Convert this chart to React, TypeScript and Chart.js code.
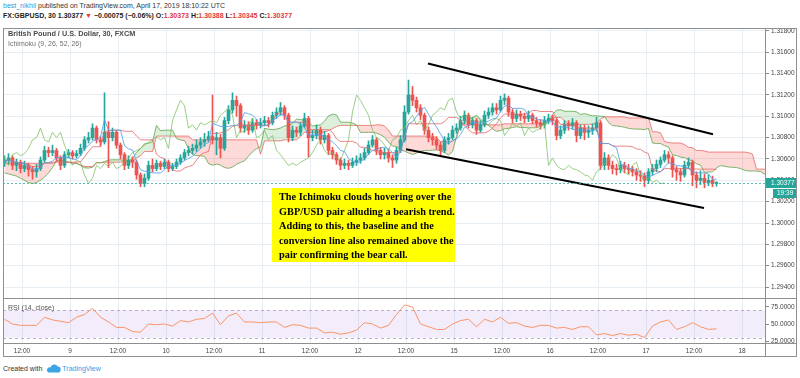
import React, { useEffect, useRef } from "react";
import { Chart, registerables } from "chart.js";
Chart.register(...registerables);

// ---------- DATA (hourly candles) ----------
const firstHour = 7.625; // trading-hour index of the first candle (label "9" = hour 24)
const firstOpen = 1.3057;
const closes = [
  1.3059, 1.3061, 1.3054, 1.3057, 1.3051, 1.3054, 1.305, 1.3048, 1.3051, 1.3059,
  1.3068, 1.3066, 1.3068, 1.3061, 1.3054, 1.3064, 1.3066, 1.3063, 1.3065, 1.307,
  1.3078, 1.308, 1.3089, 1.3078, 1.3076, 1.3085, 1.308, 1.3085, 1.3073, 1.3064,
  1.3054, 1.3059, 1.3057, 1.3045, 1.3037, 1.3042, 1.3054, 1.3051, 1.3056, 1.3053,
  1.3057, 1.3051, 1.3053, 1.3057, 1.3061, 1.3066, 1.3068, 1.307, 1.3073, 1.3076,
  1.3078, 1.3081, 1.3078, 1.308, 1.307, 1.3096, 1.3106, 1.3115, 1.311, 1.3089,
  1.3092, 1.3087, 1.3094, 1.3092, 1.3094, 1.3096, 1.3094, 1.3101, 1.3104, 1.3108,
  1.3101, 1.308, 1.3087, 1.3085, 1.3091, 1.3098, 1.308, 1.3082, 1.3087, 1.3078,
  1.3082, 1.3068, 1.3064, 1.3059, 1.3054, 1.3056, 1.3054, 1.3057, 1.3059, 1.3061,
  1.3066, 1.3073, 1.3078, 1.3068, 1.3064, 1.3066, 1.3061, 1.3059, 1.3068, 1.3078,
  1.3104, 1.312, 1.3115, 1.3108, 1.3101, 1.3087, 1.308, 1.3078, 1.3073, 1.3068,
  1.3078, 1.308, 1.3087, 1.3089, 1.3096, 1.3101, 1.3092, 1.3096, 1.3087, 1.3092,
  1.3101, 1.3104, 1.3108, 1.3106, 1.3115, 1.3117, 1.3104, 1.3098, 1.3102, 1.31,
  1.3098, 1.3101, 1.3096, 1.3094, 1.3092, 1.3096, 1.3098, 1.3096, 1.3082, 1.3087,
  1.3093, 1.3091, 1.3094, 1.3082, 1.3089, 1.3085, 1.3087, 1.3089, 1.3094, 1.3054,
  1.3061, 1.3054, 1.3051, 1.305, 1.3054, 1.3051, 1.305, 1.3048, 1.3045, 1.3044,
  1.304, 1.3048, 1.3051, 1.3055, 1.3059, 1.3064, 1.3061, 1.305, 1.3048, 1.3045,
  1.3054, 1.3057, 1.3045, 1.304, 1.3042, 1.3038, 1.304, 1.3037, 1.30377,
];
const highs = [
  1.3063, 1.3065, 1.3063, 1.306, 1.3059, 1.3058, 1.3056, 1.3053, 1.3055, 1.3062,
  1.3072, 1.3071, 1.3073, 1.307, 1.3063, 1.3067, 1.3069, 1.3068, 1.3068, 1.3074,
  1.3081, 1.3085, 1.3093, 1.3091, 1.3081, 1.3122, 1.3095, 1.3089, 1.3087, 1.3075,
  1.3066, 1.3063, 1.3062, 1.3059, 1.3047, 1.3046, 1.3058, 1.306, 1.3059, 1.3058,
  1.306, 1.3059, 1.3056, 1.306, 1.3064, 1.3069, 1.3072, 1.3074, 1.3078, 1.308,
  1.3084, 1.3086, 1.312, 1.3085, 1.3083, 1.3099, 1.311, 1.3122, 1.3119, 1.3112,
  1.3096, 1.3095, 1.3098, 1.3097, 1.3098, 1.31, 1.3099, 1.3104, 1.3108, 1.3113,
  1.311, 1.3103, 1.3091, 1.309, 1.3094, 1.3103, 1.31, 1.3087, 1.3092, 1.309,
  1.3086, 1.3084, 1.3071, 1.3066, 1.3061, 1.306, 1.3059, 1.3061, 1.3063, 1.3065,
  1.307, 1.3077, 1.3082, 1.308, 1.3071, 1.307, 1.3069, 1.3064, 1.3071, 1.3082,
  1.311, 1.3134, 1.3128, 1.3118, 1.3111, 1.3103, 1.309, 1.3084, 1.3081, 1.3076,
  1.3081, 1.3084, 1.3091, 1.3093, 1.31, 1.3105, 1.3103, 1.3099, 1.3098, 1.3096,
  1.3105, 1.3108, 1.3112, 1.3112, 1.3119, 1.3121, 1.3119, 1.3107, 1.3106, 1.3105,
  1.3103, 1.3105, 1.3103, 1.3099, 1.3097, 1.31, 1.3102, 1.3101, 1.3098, 1.3091,
  1.3096, 1.3096, 1.3098, 1.3096, 1.3092, 1.3092, 1.3091, 1.3093, 1.3099, 1.3096,
  1.3066, 1.3064, 1.3058, 1.3055, 1.3058, 1.3057, 1.3055, 1.3053, 1.3051, 1.3049,
  1.3047, 1.3051, 1.3055, 1.3059, 1.3062, 1.3068, 1.3067, 1.3063, 1.3053, 1.3051,
  1.3058, 1.3061, 1.3059, 1.3048, 1.3049, 1.3046, 1.3045, 1.3044, 1.30388,
];
const lows = [
  1.3053, 1.3055, 1.305, 1.3049, 1.3047, 1.3048, 1.3044, 1.3041, 1.3043, 1.3049,
  1.3057, 1.3062, 1.3063, 1.3058, 1.305, 1.3052, 1.3061, 1.306, 1.3061, 1.3063,
  1.3068, 1.3075, 1.3078, 1.3075, 1.3072, 1.3074, 1.3052, 1.3077, 1.307, 1.306,
  1.305, 1.3051, 1.3052, 1.3041, 1.3034, 1.3034, 1.304, 1.3048, 1.3049, 1.305,
  1.3051, 1.3048, 1.3049, 1.3051, 1.3055, 1.3059, 1.3063, 1.3065, 1.3067, 1.307,
  1.3072, 1.3076, 1.3074, 1.3064, 1.3061, 1.3068, 1.3093, 1.3103, 1.31, 1.3085,
  1.3085, 1.3083, 1.3085, 1.3088, 1.3089, 1.3091, 1.309, 1.3092, 1.3098, 1.3101,
  1.3097, 1.3076, 1.3077, 1.3081, 1.3082, 1.3089, 1.3062, 1.3077, 1.3079, 1.3074,
  1.3075, 1.3064, 1.306, 1.3055, 1.305, 1.3051, 1.305, 1.3052, 1.3054, 1.3056,
  1.3059, 1.3064, 1.3071, 1.3064, 1.306, 1.306, 1.3057, 1.3052, 1.3056, 1.3066,
  1.3076, 1.3102, 1.311, 1.3104, 1.3097, 1.3083, 1.3076, 1.3073, 1.3069, 1.3064,
  1.3066, 1.3074, 1.3078, 1.3084, 1.3087, 1.3093, 1.3089, 1.3089, 1.3083, 1.3085,
  1.309, 1.3098, 1.3101, 1.3102, 1.3104, 1.3111, 1.31, 1.3094, 1.3095, 1.3096,
  1.3094, 1.3095, 1.3093, 1.309, 1.3088, 1.3089, 1.3093, 1.3092, 1.3078, 1.3079,
  1.3084, 1.3087, 1.3088, 1.3076, 1.3079, 1.3078, 1.308, 1.3083, 1.3086, 1.305,
  1.305, 1.305, 1.3046, 1.3045, 1.3047, 1.3047, 1.3046, 1.3044, 1.304, 1.3039,
  1.3034, 1.3037, 1.3045, 1.3048, 1.3052, 1.3057, 1.3056, 1.3043, 1.304, 1.3039,
  1.3043, 1.3051, 1.3035, 1.3033, 1.3036, 1.3033, 1.3035, 1.3034, 1.30345,
];
// leading spans plotted before the first candle (from earlier data)
const leadAPrior = [1.3047, 1.3046, 1.3045, 1.3044, 1.3042, 1.304, 1.3038, 1.3037, 1.3038, 1.304, 1.3043, 1.3047, 1.3052];
const leadBPrior = [1.3056, 1.3056, 1.3056, 1.3056, 1.3056, 1.3056, 1.3056, 1.3056, 1.3056, 1.3056, 1.3056, 1.3056, 1.3056];
// Ichimoku (9, 26, 52, 26) on 30-min bars, expressed in hourly candles
const conversionLen = 5;
const baseLen = 13;
const spanBLen = 26;
const displacement = 13;
// RSI, one value every 2 hours from the first candle
const rsiValues = [
  57, 50, 48, 48, 48, 60, 56, 54, 52, 60, 64, 73, 60, 53, 45, 45, 39, 38, 50, 49,
  50, 47, 55, 53, 57, 58, 66, 49, 62, 66, 53, 53, 52, 53, 53, 45, 49, 48, 44, 44,
  37, 38, 35, 37, 41, 52, 50, 44, 48, 64, 78, 75, 50, 46, 42, 42, 50, 55, 57, 46,
  57, 53, 60, 51, 52, 47, 45, 48, 48, 44, 45, 42, 46, 46, 34, 36, 33, 36, 33.5, 35,
  30, 47, 53, 56, 42, 46, 52, 46, 42, 43,
];
const rsiUpper = 70;
const rsiLower = 30;
// drawn trend lines (hour, price)
const upperTrendHours = [113.5, 184.75];
const upperTrendPrices = [1.31496, 1.30832];
const lowerTrendHours = [108, 182.5];
const lowerTrendPrices = [1.30692, 1.3014];
// axes
const priceTicks = [1.294, 1.296, 1.298, 1.3, 1.302, 1.304, 1.306, 1.308, 1.31, 1.312, 1.314, 1.316, 1.318];
const rsiTicks = [25, 50, 75];
const timeTickHours = [12, 24, 36, 48, 60, 72, 84, 96, 108, 120, 132, 144, 156, 168, 180, 192];
const timeTickLabels = ["12:00", "9", "12:00", "10", "12:00", "11", "12:00", "12", "12:00", "15", "12:00", "16", "12:00", "17", "12:00", "18"];
const countdownLabel = "19:39";

// ---------- STYLE ----------
const FONT = "'Liberation Sans', Arial, sans-serif";
const UP = "#26a69a";
const DOWN = "#ef5350";
const GRID = "#e8eff4";
const X_MIN = 7.25;
const X_MAX = 197.75;
const P_MIN = 1.29297;
const P_MAX = 1.31828;
const R_MIN = 22.1;
const R_MAX = 88.2;

function midRange(i: number, len: number) {
  let hi = -Infinity;
  let lo = Infinity;
  for (let k = Math.max(0, i - len + 1); k <= i; k++) {
    hi = Math.max(hi, highs[k]);
    lo = Math.min(lo, lows[k]);
  }
  return (hi + lo) / 2;
}

const lastPricePlugin = {
  id: "lastPrice",
  afterDatasetsDraw(chart: any) {
    const { ctx, chartArea, scales } = chart;
    const last = closes[closes.length - 1];
    const py = Math.round(scales.y.getPixelForValue(last)) + 0.5;
    ctx.save();
    ctx.strokeStyle = "rgba(38,166,154,0.75)";
    ctx.lineWidth = 1;
    ctx.setLineDash([2, 2]);
    ctx.beginPath();
    ctx.moveTo(chartArea.left, py);
    ctx.lineTo(chartArea.right, py);
    ctx.stroke();
    ctx.restore();
  },
  afterDraw(chart: any) {
    const { ctx, chartArea, scales } = chart;
    const last = closes[closes.length - 1];
    const py = Math.round(scales.y.getPixelForValue(last));
    const x0 = chartArea.right;
    const x1 = chart.width - 3;
    ctx.save();
    ctx.fillStyle = UP;
    ctx.fillRect(x0, py - 5, x1 - x0, 10);
    ctx.fillRect(x0 + 8, py + 6, x1 - x0 - 8, 9);
    ctx.fillStyle = "#ffffff";
    ctx.font = `6.5px ${FONT}`;
    ctx.textBaseline = "middle";
    ctx.textAlign = "left";
    ctx.fillText(last.toFixed(5), x0 + 6, py + 0.5);
    ctx.fillText(countdownLabel, x0 + 12, py + 10.5);
    ctx.restore();
  },
};

const rsiBandPlugin = {
  id: "rsiBand",
  beforeDatasetsDraw(chart: any) {
    const { ctx, chartArea, scales } = chart;
    const yT = scales.y.getPixelForValue(rsiUpper);
    const yB = scales.y.getPixelForValue(rsiLower);
    ctx.save();
    ctx.fillStyle = "rgba(149,97,226,0.12)";
    ctx.fillRect(chartArea.left, yT, chartArea.right - chartArea.left, yB - yT);
    ctx.strokeStyle = "rgba(150,120,180,0.6)";
    ctx.setLineDash([3, 3]);
    ctx.lineWidth = 1;
    for (const y of [yT, yB]) {
      ctx.beginPath();
      ctx.moveTo(chartArea.left, Math.round(y) + 0.5);
      ctx.lineTo(chartArea.right, Math.round(y) + 0.5);
      ctx.stroke();
    }
    ctx.restore();
  },
};

function zeroPad(s: any) {
  s.paddingTop = 0;
  s.paddingBottom = 0;
  s.paddingLeft = 0;
  s.paddingRight = 0;
}

export default function App() {
  const mainRef = useRef<HTMLCanvasElement>(null);
  const rsiRef = useRef<HTMLCanvasElement>(null);

  useEffect(() => {
    const hours = closes.map((_, i) => firstHour + i);
    const opens = closes.map((c, i) => (i === 0 ? firstOpen : closes[i - 1]));
    const colors = closes.map((c, i) => (c >= opens[i] ? UP : DOWN));
    const bodies = hours.map((h, i) => ({ x: h, y: [opens[i], closes[i]] }));
    const wicks = hours.map((h, i) => ({ x: h, y: [lows[i], highs[i]] }));
    const conv = hours.map((h, i) => ({ x: h, y: midRange(i, conversionLen) }));
    const base = hours.map((h, i) => ({ x: h, y: midRange(i, baseLen) }));
    const lag = hours.map((h, i) => ({ x: h - displacement, y: closes[i] }));
    const leadA = [
      ...leadAPrior.map((v, j) => ({ x: firstHour + j, y: v })),
      ...hours.map((h, i) => ({ x: h + displacement, y: (midRange(i, conversionLen) + midRange(i, baseLen)) / 2 })),
    ];
    const leadB = [
      ...leadBPrior.map((v, j) => ({ x: firstHour + j, y: v })),
      ...hours.map((h, i) => ({ x: h + displacement, y: midRange(i, spanBLen) })),
    ];
    const upperTrend = upperTrendHours.map((h, i) => ({ x: h, y: upperTrendPrices[i] }));
    const lowerTrend = lowerTrendHours.map((h, i) => ({ x: h, y: lowerTrendPrices[i] }));

    const line = (data: any[], color: string, order: number, extra: any = {}) => ({
      type: "line",
      data,
      borderColor: color,
      borderWidth: 1,
      pointRadius: 0,
      tension: 0,
      fill: false,
      order,
      ...extra,
    });

    const xTicks = (s: any) => {
      s.ticks = timeTickHours.map((v) => ({ value: v }));
    };

    const main = new Chart(mainRef.current as HTMLCanvasElement, {
      type: "bar",
      data: {
        datasets: [
          line(leadB, "rgba(239,83,80,0.7)", 21),
          line(leadA, "rgba(102,170,80,0.85)", 20, {
            fill: { target: 0, above: "rgba(76,175,80,0.2)", below: "rgba(244,67,54,0.2)" },
          }),
          {
            type: "bar",
            data: wicks,
            backgroundColor: colors,
            barThickness: 1,
            grouped: false,
            order: 11,
          },
          {
            type: "bar",
            data: bodies,
            backgroundColor: colors,
            barThickness: 3,
            minBarLength: 1,
            grouped: false,
            order: 10,
          },
          line(lag, "rgba(120,190,90,0.75)", 5),
          line(base, "rgba(230,100,100,0.8)", 4),
          line(conv, "rgba(80,160,240,0.85)", 3),
          line(upperTrend, "#000000", 1, { borderWidth: 2 }),
          line(lowerTrend, "#000000", 1, { borderWidth: 2 }),
        ] as any,
      },
      options: {
        animation: false,
        responsive: false,
        events: [],
        layout: { padding: { left: 3, right: 0, top: 0, bottom: 0 } },
        plugins: { legend: { display: false }, tooltip: { enabled: false } },
        scales: {
          x: {
            type: "linear",
            min: X_MIN,
            max: X_MAX,
            offset: false,
            grid: { color: GRID, drawTicks: false, offset: false },
            border: { display: false },
            ticks: { display: false },
            afterBuildTicks: xTicks,
            afterFit: (s: any) => {
              s.height = 0;
              zeroPad(s);
            },
          },
          y: {
            position: "right",
            min: P_MIN,
            max: P_MAX,
            grid: { color: GRID, tickLength: 4, tickColor: "#888888" },
            border: { display: false },
            ticks: {
              font: { size: 6.5, family: FONT },
              color: "#444444",
              padding: 2,
              callback: (v: any) => Number(v).toFixed(5),
            },
            afterBuildTicks: (s: any) => {
              s.ticks = priceTicks.map((v) => ({ value: v }));
            },
            afterFit: (s: any) => {
              s.width = 35;
              zeroPad(s);
            },
          },
        },
      } as any,
      plugins: [lastPricePlugin],
    });

    const rsi = new Chart(rsiRef.current as HTMLCanvasElement, {
      type: "line",
      data: {
        datasets: [
          {
            data: rsiValues.map((v, k) => ({ x: firstHour + 2 * k, y: v })),
            borderColor: "#fb9463",
            borderWidth: 1,
            pointRadius: 0,
            tension: 0,
          },
        ],
      },
      options: {
        animation: false,
        responsive: false,
        events: [],
        layout: { padding: { left: 3, right: 0, top: 0, bottom: 0 } },
        plugins: { legend: { display: false }, tooltip: { enabled: false } },
        scales: {
          x: {
            type: "linear",
            min: X_MIN,
            max: X_MAX,
            grid: { color: GRID, drawTicks: false },
            border: { display: false },
            ticks: {
              font: { size: 6.5, family: FONT },
              color: "#444444",
              padding: 4,
              maxRotation: 0,
              autoSkip: false,
              callback: (v: any) => {
                const k = timeTickHours.indexOf(Number(v));
                return k >= 0 ? timeTickLabels[k] : "";
              },
            },
            afterBuildTicks: xTicks,
            afterFit: (s: any) => {
              s.height = 14;
              zeroPad(s);
            },
          },
          y: {
            position: "right",
            min: R_MIN,
            max: R_MAX,
            grid: { drawOnChartArea: false, tickLength: 4, tickColor: "#888888" },
            border: { display: false },
            ticks: {
              font: { size: 6.5, family: FONT },
              color: "#444444",
              padding: 2,
              callback: (v: any) => Number(v).toFixed(4),
            },
            afterBuildTicks: (s: any) => {
              s.ticks = rsiTicks.map((v) => ({ value: v }));
            },
            afterFit: (s: any) => {
              s.width = 35;
              zeroPad(s);
            },
          },
        },
      } as any,
      plugins: [rsiBandPlugin],
    });

    return () => {
      main.destroy();
      rsi.destroy();
    };
  }, []);

  const abs = (l: number, t: number, extra: any = {}) => ({ position: "absolute" as const, left: l, top: t, ...extra });
  const small = { fontFamily: FONT, fontSize: 7, lineHeight: "9px", whiteSpace: "nowrap" as const };
  const red = "#e0393e";

  return (
    <div style={{ position: "absolute", left: 0, top: 0, width: 800, height: 378, background: "#ffffff", overflow: "hidden" }}>
      {/* header */}
      <div style={{ ...abs(3, 1), ...small, color: "#333" }}>
        <span style={{ color: "#2e9be6" }}>best_nikhil</span> published on TradingView.com, April 17, 2019 18:10:22 UTC
      </div>
      <div style={{ ...abs(3, 11), ...small, color: "#222", fontWeight: 700 }}>
        FX:GBPUSD, 30 1.30377 <span style={{ color: red }}>▼</span> −0.00075 (−0.06%) O:<span style={{ color: red }}>1.30373</span> H:
        <span style={{ color: red }}>1.30388</span> L:<span style={{ color: red }}>1.30345</span> C:
        <span style={{ color: red }}>1.30377</span>
      </div>

      {/* charts */}
      <canvas ref={mainRef} width={800} height={270} style={{ ...abs(0, 28), width: 800, height: 270 }} />
      <canvas ref={rsiRef} width={800} height={59} style={{ ...abs(0, 298), width: 800, height: 59 }} />

      {/* frame */}
      <div style={{ ...abs(3, 28), width: 794, height: 329, boxSizing: "border-box", border: "1px solid #8f8f8f" }} />
      <div style={{ ...abs(3, 298), width: 794, height: 1, background: "#8f8f8f" }} />
      <div style={{ ...abs(3, 343), width: 794, height: 1, background: "#8f8f8f" }} />
      <div style={{ ...abs(765, 28), width: 1, height: 329, background: "#8f8f8f" }} />

      {/* in-chart legends */}
      <div style={{ ...abs(8, 29), ...small, fontSize: 7.3, color: "#4a4a4a", fontWeight: 700 }}>British Pound / U.S. Dollar, 30, FXCM</div>
      <div style={{ ...abs(8, 39), ...small, color: "#6f6f6f" }}>Ichimoku (9, 26, 52, 26)</div>
      <div style={{ ...abs(8, 303), ...small, color: "#555" }}>RSI (14, close)</div>

      {/* annotation */}
      <div
        style={{
          ...abs(272, 188),
          width: 183,
          height: 74,
          boxSizing: "border-box",
          background: "#ffff00",
          padding: "2px 0 0 7px",
          fontFamily: "'Liberation Serif', 'Times New Roman', serif",
          fontWeight: 700,
          fontSize: 10.3,
          lineHeight: "14.5px",
          color: "#000",
          whiteSpace: "nowrap",
        }}
      >
        The Ichimoku clouds hovering over the
        <br />
        GBP/USD pair alluding a bearish trend.
        <br />
        Adding to this, the baseline and the
        <br />
        conversion line also remained above the
        <br />
        pair confirming the bear call.
      </div>

      {/* footer */}
      <div style={{ ...abs(3, 364), ...small, color: "#333", display: "flex", alignItems: "center" }}>
        <span>Created with</span>
        <svg width="16" height="9" viewBox="0 0 16 9" style={{ margin: "0 1px 0 3px" }}>
          <path d="M3.5 8.5 h9 a3 3 0 0 0 0.3-6 a4 4 0 0 0-7.3 1 a2.7 2.7 0 0 0-2 5z" fill="#3ca4e6" />
        </svg>
        <span style={{ color: "#2e9be6" }}>TradingView</span>
      </div>
    </div>
  );
}
